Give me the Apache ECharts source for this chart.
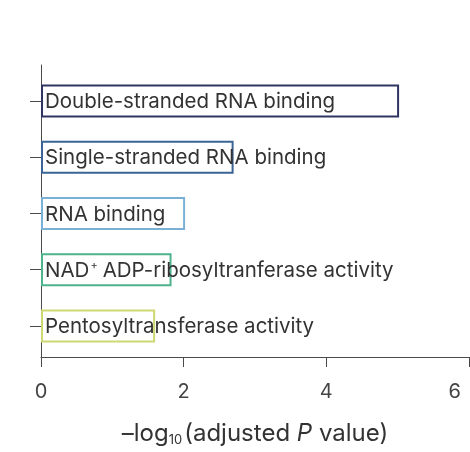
<!DOCTYPE html>
<html>
<head>
    <meta charset="utf-8">
    <title>GO enrichment</title>
    <script src="https://cdn.jsdelivr.net/npm/echarts@6/dist/echarts.min.js"></script>
</head>
<style>
  html, body { margin: 0; padding: 0; background: #fff; }
</style>
<body>
    <div id="main" style="width: 470px;height:452px;"></div>
    <script type="text/javascript">
    // categories, top to bottom
    var terms = [
        'Double-stranded RNA binding',
        'Single-stranded RNA binding',
        'RNA binding',
        'NAD{sup|+}ADP-ribosyltranferase activity',
        'Pentosyltransferase activity'
    ];
    // -log10(adjusted P value)
    var values = [5.02, 2.70, 2.02, 1.83, 1.60];
    var barColors = ['#2e3560', '#3a6496', '#7ab0d6', '#4db38c', '#cfd870'];
    var xTicks = [0, 2, 4, 6];

    var myChart = echarts.init(document.getElementById('main'));
    var font = 'Inter';
    var axisColor = '#4a4a4a';
    var xMax = xTicks[xTicks.length - 1];

    var data = values.map(function (v, i) {
        return {
            value: v,
            itemStyle: { color: 'rgba(255,255,255,0)', borderColor: barColors[i], borderWidth: 2 }
        };
    });

    var option = {
        animation: false,
        grid: [
            // bars
            { left: 41, right: 1, top: 73, height: 281 },
            // axis frame
            { left: 41, right: 1, top: 65, bottom: 91 }
        ],
        xAxis: [{
            gridIndex: 0,
            type: 'value',
            min: xTicks[0],
            max: xMax,
            interval: 2,
            show: false
        }, {
            gridIndex: 1,
            type: 'value',
            min: xTicks[0],
            max: xMax,
            interval: 2,
            axisLine: { show: true, lineStyle: { color: axisColor, width: 1 } },
            axisTick: { show: true, inside: false, length: 10, lineStyle: { color: axisColor } },
            splitLine: { show: false },
            axisLabel: {
                margin: 25,
                fontFamily: font,
                fontSize: 20,
                color: '#444',
                alignMaxLabel: 'right',
                formatter: function (v) { return v === xMax ? '{r|' + v + '}' : String(v); },
                rich: {
                    r: { fontFamily: font, fontSize: 20, color: '#444', padding: [0, 8, 0, 0] }
                }
            },
            name: '{t|\u2013log}{s|10}{t|(adjusted }{i|P}{t| value)}',
            nameLocation: 'middle',
            nameGap: 64,
            nameTextStyle: {
                rich: {
                    t: { fontFamily: font, fontSize: 24, color: '#333' },
                    s: { fontFamily: font, fontSize: 13, color: '#333', verticalAlign: 'bottom', padding: [13, 2, 0, 0] },
                    i: { fontFamily: font, fontSize: 24, color: '#333', fontStyle: 'italic' }
                }
            }
        }],
        yAxis: [{
            gridIndex: 0,
            type: 'category',
            inverse: true,
            data: terms,
            axisLine: { show: false },
            axisTick: { show: true, alignWithLabel: true, length: 11, lineStyle: { color: axisColor } },
            axisLabel: { show: false }
        }, {
            gridIndex: 1,
            type: 'value',
            min: 0,
            max: 1,
            axisLine: { show: true, lineStyle: { color: axisColor, width: 1 } },
            axisTick: { show: false },
            axisLabel: { show: false },
            splitLine: { show: false }
        }],
        series: [{
            type: 'bar',
            xAxisIndex: 0,
            yAxisIndex: 0,
            barWidth: 33,
            data: data,
            label: {
                show: true,
                position: 'insideLeft',
                distance: 4,
                offset: [0, 1],
                formatter: function (p) { return p.name; },
                fontFamily: font,
                fontSize: 20.5,
                color: '#333',
                rich: {
                    sup: { fontFamily: font, fontSize: 11, color: '#333', verticalAlign: 'top', padding: [0, 5, 10, 1] }
                }
            }
        }]
    };
    myChart.setOption(option);
    </script>
</body>
</html>
